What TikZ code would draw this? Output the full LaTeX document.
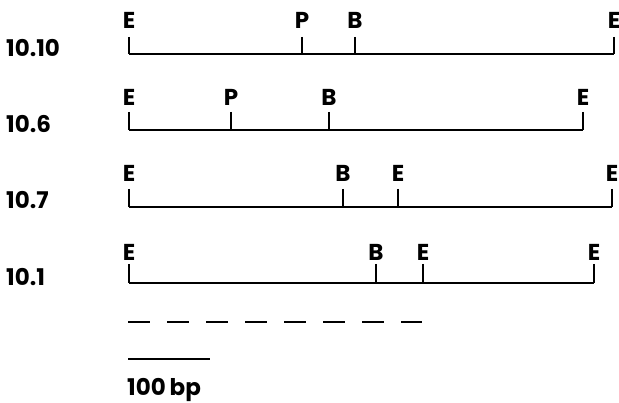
\documentclass[tikz,border=0pt]{standalone}
\usepackage{fontspec}
\newfontfamily\mapfont{Poppins}

\begin{document}
\begin{tikzpicture}[x=1pt, y=-1pt,
    site/.style ={font=\mapfont\bfseries\fontsize{23}{23}\selectfont, inner sep=0pt},
    clone/.style ={font=\mapfont\bfseries\fontsize{23}{23}\selectfont, inner sep=0pt, anchor=west},
    map/.style ={line width=2pt}]
   \useasboundingbox (0,0) rectangle (619,403);

   % 10.10
   \node[clone] (C1) at (6,48) {10.10};
   \coordinate (L1) at (129,54);
   \coordinate (R1) at (614,54);
   \node[site] (E11) at (129,20) {E};
   \node[site] (P11) at (302,20) {P};
   \node[site] (B11) at (355,20) {B};
   \node[site] (E12) at (614,20) {E};
   \draw[map] (L1) to (R1);
   \draw[map] (E11 |- 0,37) to (E11 |- L1);
   \draw[map] (P11 |- 0,37) to (P11 |- L1);
   \draw[map] (B11 |- 0,37) to (B11 |- L1);
   \draw[map] (E12 |- 0,37) to (E12 |- L1);

   % 10.6
   \node[clone] (C2) at (6,124) {10.6};
   \coordinate (L2) at (129,130);
   \coordinate (R2) at (583,130);
   \node[site] (E21) at (129,97) {E};
   \node[site] (P21) at (231,97) {P};
   \node[site] (B21) at (329,97) {B};
   \node[site] (E22) at (583,97) {E};
   \draw[map] (L2) to (R2);
   \draw[map] (E21 |- 0,112) to (E21 |- L2);
   \draw[map] (P21 |- 0,112) to (P21 |- L2);
   \draw[map] (B21 |- 0,112) to (B21 |- L2);
   \draw[map] (E22 |- 0,112) to (E22 |- L2);

   % 10.7
   \node[clone] (C3) at (6,200) {10.7};
   \coordinate (L3) at (129,207);
   \coordinate (R3) at (612,207);
   \node[site] (E31) at (129,173) {E};
   \node[site] (B31) at (343,173) {B};
   \node[site] (E32) at (398,173) {E};
   \node[site] (E33) at (612,173) {E};
   \draw[map] (L3) to (R3);
   \draw[map] (E31 |- 0,189) to (E31 |- L3);
   \draw[map] (B31 |- 0,189) to (B31 |- L3);
   \draw[map] (E32 |- 0,189) to (E32 |- L3);
   \draw[map] (E33 |- 0,189) to (E33 |- L3);

   % 10.1
   \node[clone] (C4) at (6,277) {10.1};
   \coordinate (L4) at (129,283);
   \coordinate (R4) at (594,283);
   \node[site] (E41) at (129,252) {E};
   \node[site] (B41) at (376,252) {B};
   \node[site] (E42) at (423,252) {E};
   \node[site] (E43) at (594,252) {E};
   \draw[map] (L4) to (R4);
   \draw[map] (E41 |- 0,264) to (E41 |- L4);
   \draw[map] (B41 |- 0,264) to (B41 |- L4);
   \draw[map] (E42 |- 0,264) to (E42 |- L4);
   \draw[map] (E43 |- 0,264) to (E43 |- L4);

   % dashed line and scale bar
   \coordinate (D1) at (128,322);
   \coordinate (D2) at (422,322);
   \draw[map, dash pattern=on 22pt off 17pt] (D1) to (D2);
   \coordinate (S1) at (128,359);
   \coordinate (S2) at (210,359);
   \draw[map] (S1) to (S2);
   \node[clone] (bp) at (127,390) {100\,bp};
\end{tikzpicture}
\end{document}
